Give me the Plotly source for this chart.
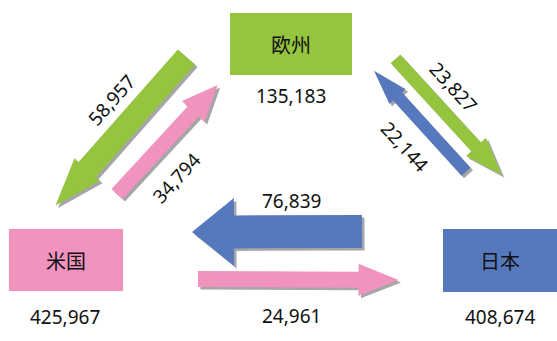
import math
import plotly.graph_objects as go

# ---- data ----
regions = ["欧州", "米国", "日本"]
region_totals = [135183, 425967, 408674]

flow_from = ["欧州", "米国", "欧州", "日本", "日本", "米国"]
flow_to = ["米国", "欧州", "日本", "欧州", "米国", "日本"]
flow_values = [58957, 34794, 23827, 22144, 76839, 24961]

# ---- layout / style (pixel space of a 557x341 canvas) ----
W, H = 557, 341
region_colors = {"欧州": "#95C43F", "米国": "#F093BE", "日本": "#5679BE"}
region_boxes = {  # x0, y0, x1, y1
    "欧州": (230, 13, 352, 75),
    "米国": (9, 229, 123, 291),
    "日本": (443, 229, 557, 292),
}
total_label_pos = {"欧州": (291, 96), "米国": (65, 317), "日本": (500, 317)}

# per-flow arrow geometry: tail, tip, shaft width, head width, head length
flow_geom = [
    ((186.5, 57.0), (55.5, 205.5), 23, 34, 48),
    ((117.0, 194.0), (217.7, 85.0), 15, 31, 36),
    ((395.5, 58.8), (501.7, 175.0), 13, 27, 38),
    ((466.0, 171.7), (374.0, 70.7), 12, 22, 35),
    ((362.0, 231.5), (192.0, 232.0), 33, 68, 42),
    ((198.0, 279.0), (398.5, 280.0), 16, 32, 40),
]
flow_label = [  # x, y, angle
    (111.7, 100.0, -48.6),
    (176.7, 178.3, -47.3),
    (453.3, 86.7, 47.6),
    (405.0, 146.7, 47.7),
    (291.0, 201.0, 0),
    (291.0, 316.0, 0),
]
shadow_dx, shadow_dy = 2.5, 2.5
shadow_color = "#A6A6A6"
num_font = dict(family="Noto Sans, Open Sans, sans-serif", size=19, color="#111111")
cjk_font = dict(family="Noto Sans CJK JP, sans-serif", size=20, color="#111111")


def arrow_path(tail, tip, w, hw, hl, ox=0.0, oy=0.0):
    tx, ty = tail[0] + ox, tail[1] + oy
    px_, py_ = tip[0] + ox, tip[1] + oy
    dx, dy = px_ - tx, py_ - ty
    L = math.hypot(dx, dy)
    ux, uy = dx / L, dy / L
    nx, ny = -uy, ux
    bx, by = px_ - ux * hl, py_ - uy * hl
    pts = [
        (tx + nx * w / 2, ty + ny * w / 2),
        (bx + nx * w / 2, by + ny * w / 2),
        (bx + nx * hw / 2, by + ny * hw / 2),
        (px_, py_),
        (bx - nx * hw / 2, by - ny * hw / 2),
        (bx - nx * w / 2, by - ny * w / 2),
        (tx - nx * w / 2, ty - ny * w / 2),
    ]
    return "M " + " L ".join(f"{x:.2f},{y:.2f}" for x, y in pts) + " Z"


shapes = []
annotations = []

for name, total in zip(regions, region_totals):
    x0, y0, x1, y1 = region_boxes[name]
    shapes.append(dict(type="rect", xref="x", yref="y", x0=x0, y0=y0, x1=x1, y1=y1,
                       fillcolor=region_colors[name], line=dict(width=0), layer="above"))
    annotations.append(dict(x=(x0 + x1) / 2, y=(y0 + y1) / 2, xref="x", yref="y",
                            text=name, showarrow=False, font=cjk_font,
                            xanchor="center", yanchor="middle"))
    lx, ly = total_label_pos[name]
    annotations.append(dict(x=lx, y=ly, xref="x", yref="y", text=f"{total:,}",
                            showarrow=False, font=num_font,
                            xanchor="center", yanchor="middle"))

for src, val, geom, lab in zip(flow_from, flow_values, flow_geom, flow_label):
    tail, tip, w, hw, hl = geom
    shapes.append(dict(type="path", xref="x", yref="y",
                       path=arrow_path(tail, tip, w, hw, hl, shadow_dx, shadow_dy),
                       fillcolor=shadow_color, line=dict(width=0), layer="above"))
    shapes.append(dict(type="path", xref="x", yref="y",
                       path=arrow_path(tail, tip, w, hw, hl),
                       fillcolor=region_colors[src], line=dict(width=0), layer="above"))
    lx, ly, ang = lab
    annotations.append(dict(x=lx, y=ly, xref="x", yref="y", text=f"{val:,}",
                            showarrow=False, font=num_font, textangle=ang,
                            xanchor="center", yanchor="middle"))

fig = go.Figure()
fig.add_trace(go.Scatter(x=[0, W], y=[0, H], mode="markers",
                         marker=dict(opacity=0), hoverinfo="skip", showlegend=False))
fig.update_layout(
    width=W, height=H,
    margin=dict(l=0, r=0, t=0, b=0),
    paper_bgcolor="white", plot_bgcolor="white",
    xaxis=dict(range=[0, W], visible=False, fixedrange=True),
    yaxis=dict(range=[H, 0], visible=False, fixedrange=True),
    shapes=shapes, annotations=annotations,
    showlegend=False,
)
fig.write_html("out.html", config={"displayModeBar": False})
